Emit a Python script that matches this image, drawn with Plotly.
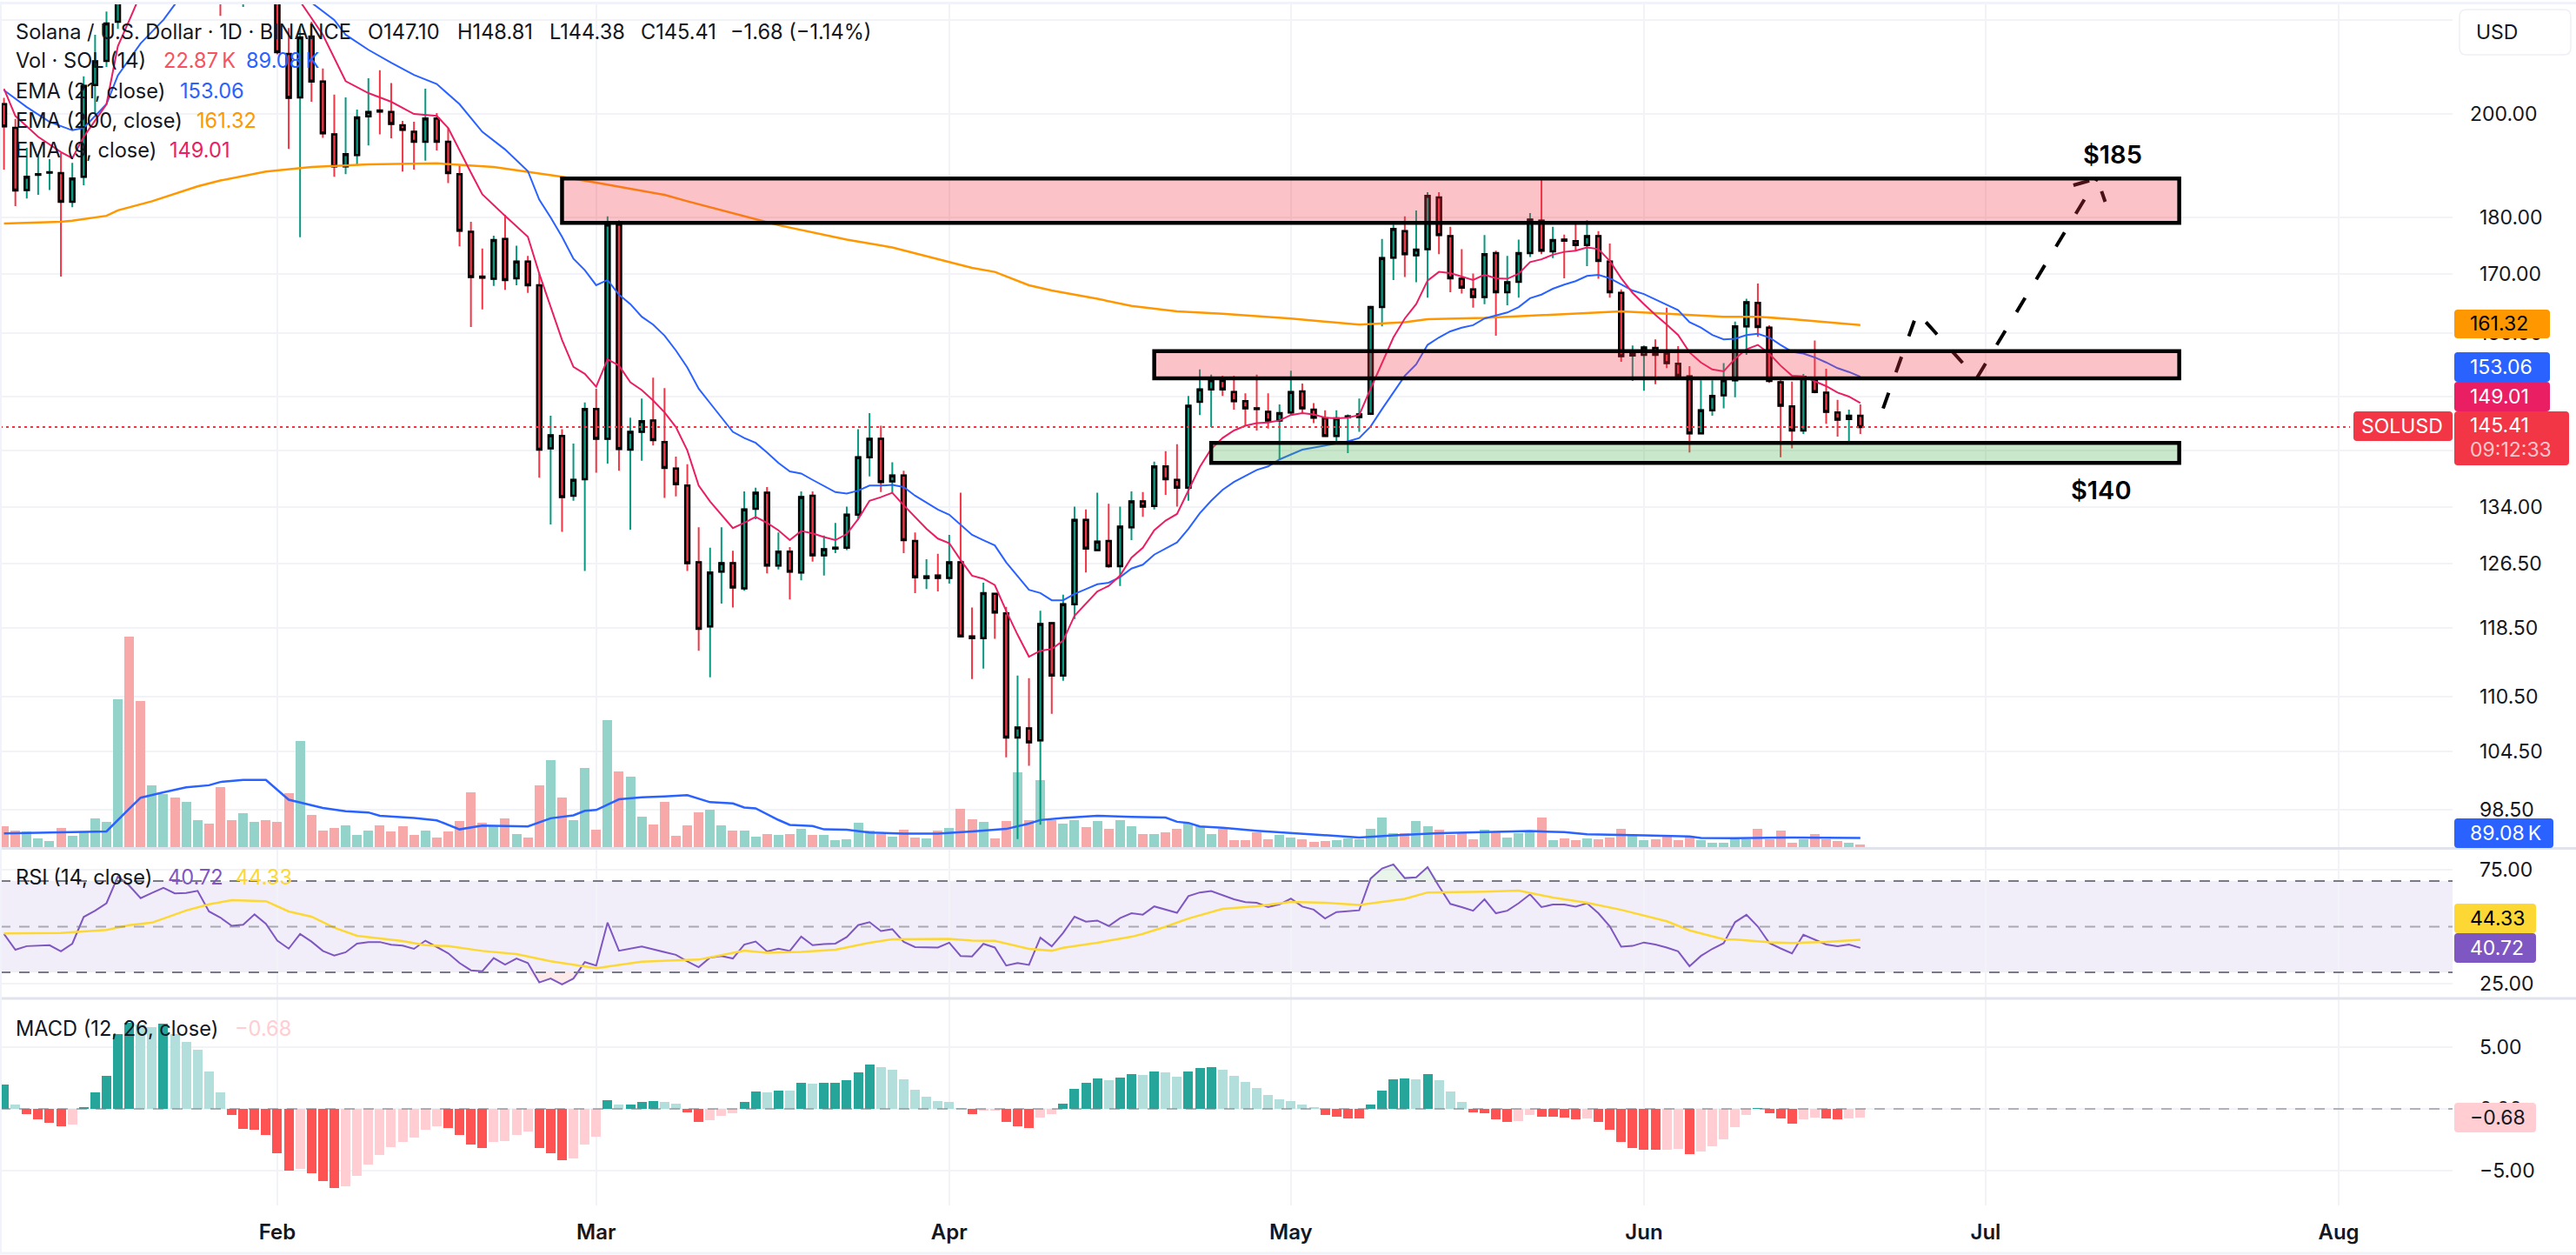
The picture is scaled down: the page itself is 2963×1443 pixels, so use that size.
import numpy as np
import pandas as pd
import plotly.graph_objects as go

# ---------- data ----------
first_day = "2025-01-08"
o_a = [202,197.2,185.1,188,188.4,188.3,182.9,187.6,206,211.1,219.7,245,238,230,245,252,246,256,261,254,239,236,241,246,233]
o_b = [212.6,203.4,216.4,206.7,195.9,189.6,191.8,199.5,200.7,200.4,197.7,196.4,194.4,199.1,194.4,188.1,177.4,169.5,169.1,176.1,169.2,172.1,168,142.3,144.1,135.6,137.9,148.1,143.7,178.7,142.1,144.7,146.4]
o_c = [143.2,139.4,137,126.7,118.7,125.5,126.6,123.4,133.8,136,126.3,128.1,125.4,135.6,127.6,128.5,128.6,133,141,143.7,137.6,138.4,129.5,124.7,125,124.7,126.7,117.5,117.3,122.7,120.3,106,107,105.7,119.1,112.9,121.4,132.3,128.3,129.5,126.2,131.3,134.8,134.2,139.7,137.8,136.7,149.2,151.1,152.4,150.7,149.3,148.2,147.7,146.4]
o_d = [147.6,150.8,148,146.7,144.1,146.9,146.9,147.4,164.3,172.8,177.5,173.2,174.3,183.7,176.6,169.1,167.3,166,173.6,166.8,168.6,173.6,179.4,173.9,176,175.7,175,176.6,172.1,166.7,156.4,156.5,157.6,156.7,155.1,153.1,144.5,147.9,150.2,152.5,161.1,165,160.9,152.2,148.5,144.9,152.5,150.6,147.6,146.6,147.10]
h_a = [203.3,199,193.2,191.8,191,192.2,190.3,207.8,216.8,222,238,262,245,250,258,258,262,266,265,258,245,246,250,248,235]
h_b = [218.3,218.7,219.7,209.5,204,203.4,200.9,207.4,209.1,206.4,198.6,198.4,205.2,200.2,197.2,189.8,179.2,174.4,176.7,180.5,174.9,173.1,170,147.1,145.1,143,149.1,151.2,180.2,179.5,146.8,149.7,152.9]
h_c = [151.3,141.1,140,131.3,128.6,131.3,128.2,136.2,136.7,136.8,130.6,128.7,136.2,136.2,130.2,131.9,134.1,145.1,147.5,145.6,140.3,139.1,130.6,127.1,127.8,130.3,136,121,124.1,122.8,121.1,112.9,112.6,120.6,119.1,122.6,134.1,133.7,136,134.5,134.1,136.2,136.1,140.4,141.9,142.9,150.1,154.2,153.4,153.2,153.2,150.5,153.4,150.5,148.8]
h_d = [154,152,149,147.9,147.9,147.3,149.7,164.5,176.1,178.7,180.2,181.3,184.7,184.7,178.3,174.3,170,176.8,174,173.1,176,180.8,187,178.3,176.9,178.8,179.5,177.5,175.3,167.3,158,158,159,164.2,157.9,154.7,152.5,152.5,155.2,161.9,165.7,168.3,161.3,152.8,152.3,153.5,158.8,154.3,149.5,148,148.81]
l_a = [189,182.1,183.5,184.2,185.1,169.5,181.9,186,200.2,209.8,218.1,232,226,226,238,240,243,250,250,221,226,223,232,229,212.5]
l_b = [193,176.4,202.5,195.2,187.6,188.1,189.8,193.7,195.9,195.1,188.6,189,190.7,192.7,186.4,174.8,161,163.9,167.9,167.2,168,166.7,138.1,131.7,130.7,134.9,125.6,138.8,140.1,139.1,131,140.5,142.7]
l_c = [135.3,135.5,125.6,115.8,112.7,121.5,121,123.1,132.4,125.3,125.8,122,124.4,126.8,125,127.9,128.3,132.3,138.3,136.1,136,127.9,122.8,123.3,123,124,117.4,112.5,113.7,117.2,103.9,95.6,103,97,108.6,112.3,119.6,125.4,128.3,126,123.7,129.6,132.7,133.7,135.7,134.1,134.9,147.2,145.4,150.1,148,145.6,144.9,145.2,140.7]
l_d = [147.2,147.5,146,144,143.2,141.6,144.7,147.2,161.1,168.9,169.4,168.5,165.9,173.4,166.8,166.6,164.2,164.8,159.6,164.6,165.9,172.9,173.4,172.7,169.2,174,171.3,169.1,165.9,155.4,152.4,150.9,151.9,154.4,152.9,141.7,144.4,147.1,148.2,149.9,156.5,159.4,152.1,141,142.3,144.4,150.5,145.9,144,143.3,144.38]
c_a = [197.5,185,187.6,188.1,188.5,182.9,187.3,205.8,211,219.3,232,238,230,245,252,246,256,261,254,239,236,241,246,233,213]
c_b = [203.3,216.2,206.7,196.1,189.6,192,199.3,200.4,200.5,198,196.8,194.4,199.1,194.4,188.3,177.6,169.4,169.3,175.9,168.9,172.1,168,142.1,144.2,135.4,137.8,148.1,143.7,178.7,142.2,144.7,146.3,143.5]
c_c = [139.5,137.2,126.6,118.4,125.4,126.6,123.5,133.7,136,126.3,128.1,125.5,135.4,127.6,128.4,128.6,133,141,143.7,137.5,138.4,129.6,124.8,124.9,124.7,126.7,117.5,117.3,122.8,120.4,106,107.1,105.5,119,112.9,121.4,132.3,128.5,129.4,126.2,131.4,134.8,134.1,139.7,137.9,136.7,148.6,151.1,152.5,151.1,149.3,148.2,148.1,146.4,147.5]
c_d = [150.7,148.2,146.8,144.1,146.7,147,147.3,164.3,172.7,177.9,173.4,174.2,184,176.8,169.2,167.6,166,173.4,166.8,168.5,173.6,179.6,174,175.9,175.8,175,176.6,172.2,166.8,156.3,156.6,157.7,156.5,155.2,153.2,144.5,147.9,150.1,152.5,161.1,165.1,161,152.4,148.6,144.9,153,150.7,147.7,146.5,147.1,145.41]

volume_k = [201,161,149,84,60,185,109,149,277,245,1443,2050,1423,603,515,482,438,261,229,583,261,330,245,261,245,
 527,1033,314,161,185,213,117,161,213,149,201,117,161,92,149,253,535,237,201,277,125,92,603,848,482,261,772,169,1238,736,687,297,221,438,109,213,338,366,213,161,161,101,125,117,125,177,117,117,68,76,237,
 160,129,104,167,94,83,160,184,372,271,243,83,254,726,261,650,261,229,261,195,254,177,261,202,125,125,142,177,229,202,125,177,66,66,142,76,118,94,76,49,59,66,83,76,177,288,136,136,254,202,167,118,136,76,167,153,94,136,160,288,66,83,66,83,76,94,177,118,66,76,101,66,101,66,42,42,76,
 80,180,80,160,42,80,128,80,61,42,22.87]

vma_day = [-24,-19,-15,-13,-12,-10,-8,-6,-5,-3,-1,1,4,6,8,9,12,14,16,18,22,24,26,27,28,30,32,34,36,38,40,41,42,44,45,47,48,50,52,55,58,61,64,66,67,69,72,75,78,79,80,81,83,86,89,92,95,98,102,106,110,113,115,120,124,125,128,133,139]
vma_val = [133,141,153,374,482,535,583,603,635,655,655,462,382,350,338,306,285,261,173,209,201,281,310,354,362,466,486,494,506,438,426,386,378,265,217,205,173,169,142,132,132,153,177,229,264,285,306,295,288,247,236,202,188,160,136,118,94,115,136,146,156,146,125,115,104,90,87,93,89.08]

ema9_day = [-24,-23,-21,-19,-18,-17,-15,-14,-13,-12,-10,-8,-5,-2,0,1,2,4,6,8,10,12,14,15,17,18,20,22,23,25,26,27,28,29,30,31,32,33] + list(range(34,140))
ema9_val = [205.2,199.6,195.4,192.4,191.2,195.4,202,214.3,220,226,236,243,250,247,240,233,224.3,216.8,206.8,204.3,202.5,200,199.6,197.2,188.4,184.3,180.3,176.5,170,158.9,154.6,153.5,151.5,155.8,154.8,152.2,151,149.4,
 147.6,145.4,142,137,134.8,133,131.2,131.9,132.7,131.9,130.9,129.6,130.8,130.5,130,129.6,130.4,132.4,134.9,135.4,136,134.3,132.7,131.1,129.8,129.2,127,125,124.6,123.8,120.6,117.7,115.1,115.8,116,117,120,121.5,123,123.7,125,127.3,128.6,130.9,132.2,133.1,136.3,139.6,142.2,143.8,144.9,145.6,146,146.1,146.4,
 147.2,147.5,147.3,146.8,146.7,146.8,147.2,151.2,155.2,159.3,162.4,164.8,168.8,170.3,170.1,169.5,168.9,169.8,169.2,169.1,170,172,172.5,173.3,173.8,174,174.6,174.3,172.2,169.2,166.7,164.8,163,161.4,159.7,156.9,155.3,154.2,153.9,155.9,157.4,158.1,156.7,154.8,153.2,153.1,152.4,151.6,150.6,150,149.01]

ema21_day = [-24,-22,-20,-18,-17,-15,-14,-12,-10,-9,-6,-3,0,2,3,5,6,8,10,12,14,16,18,20,22,23,24,25,26,27,28,29,30,31,32,33] + list(range(34,89)) + [90,92,94] + list(range(95,140))
ema21_val = [204.9,201.4,198.4,196.7,197.2,202,208,214.9,220.1,223.6,232,238,236,227,224,220.1,216.8,213.5,210.7,208.1,206.2,202,196.4,192.9,188.7,183.3,180,176.5,172.6,170.6,168,168.9,166.4,164.8,162.7,161.4,
 159.6,157.2,154.5,151.2,149,146.8,144.7,143.8,143.1,141.7,140.2,139,138.7,137.8,136.9,136.1,135.9,136.3,137,137,137.1,136.8,135.6,134.6,133.7,133,131.6,130.3,129.6,128.9,126.7,125,123.2,122.8,121.9,121.9,122.7,123.3,123.9,124.1,124.8,125.9,126.4,127.7,128.5,129.3,131.1,133.2,134.9,136.4,137.5,138.4,139.2,139.7,140.7,
 142.1,142.7,143.3,
 143.8,145.5,148.1,150.7,153.2,155,158.1,159.3,160.3,160.9,161.3,162.4,162.9,163.4,164.3,165.8,166.4,167.4,168.1,168.7,169.6,169.8,169.2,168.2,167.1,166.5,165.6,164.8,163.8,161.8,160.9,159.7,159,159.1,159.7,159.9,159.3,158.1,157,156.7,156.1,155.3,154.4,153.8,153.06]

ema200_day = [-24,-19,-18,-15,-14,-11,-7,-5,-1,3,8,14,19,22,25,28,29,34,36,41,44,50,54,61,63,66,68,72,75,79,83,89,95,99,101,106,110,116,118,121,125,127,130,133,139]
ema200_val = [178.9,179.2,179.4,180.3,181.3,183,185.8,186.9,188.6,189.5,190,190.2,189.5,188.6,187.6,186.5,186.1,184.2,183,180.3,178.6,176,174.6,171,170.3,168,167.1,165.7,164.5,163.6,163.2,162.4,161.4,161.8,162.3,162.5,162.9,163.4,163.6,163.3,162.9,162.7,162.7,162.3,161.32]

rsi_a = [46.8,39.9,41.5,41.7,41.9,39.2,42.6,54.3,57,60.3,72,68,62.5,64.8,67,64.6,64.8,65.7,56.7,54,50.4,50.9,55.4,51.3,
 43.9,40.4,46.8,43.5,39.4,37.4,38.8,42.6,43.3,43.3,42.1,41.7,40.3,43.9,41.3,38.4,34.1,30.9,30.5,36.3,33.4,36.1,34.1,25.6,27.3,24.7,27.3,34.5,33,51.8,39.5,40.4,41.3,40.1,38.8,37.7,34.8,32.3,36.5,37.2,36.1,42.2,43.5,39.2,40.4,39.4,45.7,41.9,42.4,42.6,45.5,50.7]
rsi_b = [52,48.1,48.9,43.4,41.1,41.1,40.9,43,37.2,37,42.5,40.9,33,34.1,33.3,45.2,41.4,47.3,54.4,52.2,52.7,50.3,53.8,55.9,55.3,58.9,57.5,56.1,63.4,65,65.6,63.8,62,60.8,60.5,58.6,59.8,62.3,58.8,57.5,53.6,56.4,56.7,57.2,71.1,75.5,77.3,71.3,71.6,76.1,67.7,60,58.6,57,62,55.9,57,60.3,64.2,58.6,59.7,59.7,58.8,60.3,55.9,50.2,41.3,41.6,43.1,42.2,40.9,39.2,32.7,37.2,40.3,42.8,52,
 55.2,50.1,42.9,40.5,38.3,46.5,44.4,42.2,41.5,42.2,40.72]
rsi_ma_day = [-24,-19,-15,-13,-11,-8,-6,-4,-1,1,3,5,7,11,13,15,18,21,24,28,32,37,41,43,46,49,52,54,59,61,63,66,68,69,72,75,76,78,80,83,86,89,92,95,99,101,106,109,112,115,118,122,124,127,128,131,133,136,139]
rsi_ma_val = [47.1,47.3,48.6,50.7,51.8,57.1,59.8,61.6,61.2,56.7,54.4,49.6,46,43.7,41.9,41.5,39.4,38,34.9,31.8,34.7,35.6,39.5,38.6,39,39.9,43,44.5,44.7,43.9,43.8,40.3,39.5,40.8,43,45.6,46.9,50,53.6,57.8,59,60.9,60.5,59.5,62.2,65,65.3,65.8,62.8,60.5,57.4,52.4,48.4,44.5,44.4,43.2,42.9,43.4,44.33]

macd_hist = [1.95,.37,-.44,-.87,-1.11,-1.45,-1.31,.17,1.38,2.66,6.08,7.03,6.86,6.69,6.96,6.08,5.48,4.84,3.06,1.38,-.47,-1.61,-1.68,-2.12,
 -3.6,-5.01,-4.87,-5.24,-5.88,-6.45,-6.29,-5.45,-4.54,-3.73,-3.09,-2.69,-2.35,-1.68,-1.41,-1.55,-2.12,-2.89,-3.16,-2.69,-2.62,-2.12,-1.88,-3.16,-3.6,-4.17,-4.03,-2.89,-2.25,.74,.37,.38,.57,.67,.57,.44,-.27,-1.04,-.91,-.54,-.37,.57,1.45,1.38,1.51,1.48,2.15,2.08,2.1,2.12,2.35,2.99,
 3.58,3.37,3.2,2.44,1.57,1.02,.67,.58,.03,-.41,-.17,-.16,-1.05,-1.4,-1.54,-.7,-.41,.41,1.66,2.15,2.5,2.35,2.56,2.85,2.79,3.08,2.94,2.65,3.08,3.34,3.43,3.2,2.7,2.21,1.72,1.16,.81,.67,.38,.09,-.47,-.61,-.76,-.77,.38,1.51,2.44,2.5,2.44,2.85,2.35,1.42,.58,-.26,-.35,-.84,-1.1,-.96,-.47,-.61,-.62,-.7,-.84,-.76,-1.1,-1.69,-2.67,-3.17,-3.31,-3.32,-3.31,-3.23,-3.66,-3.46,-3.02,-2.47,-1.48,
 -.48,.03,-.38,-.8,-1.23,-.88,-.72,-.8,-.88,-.8,-.68]

month_ticks = ["2025-02-01","2025-03-01","2025-04-01","2025-05-01","2025-06-01","2025-07-01","2025-08-01"]
month_text = ["Feb","Mar","Apr","May","Jun","Jul","Aug"]
price_ticks = [220,200,180,170,160,150,142,134,126.5,118.5,110.5,104.5,98.5]
price_text = ["","","180.00","170.00","160.00","","","134.00","126.50","118.50","110.50","104.50","98.50"]
rsi_ticks = [75,25]
macd_ticks = [5,0,-5]
macd_text = ["5.00","0.00","−5.00"]

path_dates = ["2025-06-22","2025-06-25","2025-06-30 05:00","2025-07-10 19:00"]
path_price = [148.2,163.4,152.8,187.3]
head_dates = ["2025-07-08 17:00","2025-07-10 19:00","2025-07-11 12:00"]
head_price = [186,187.3,182.9]

zones = [("2025-02-26","2025-07-18",179.0,187.3,"rgba(242,54,69,0.3)"),
         ("2025-04-19","2025-07-18",152.8,157.1,"rgba(242,54,69,0.3)"),
         ("2025-04-24","2025-07-18",140.2,143.1,"rgba(76,175,80,0.3)")]

# ---------- assemble ----------
opens = np.array(o_a+o_b+o_c+o_d)
highs = np.array(h_a+h_b+h_c+h_d)
lows = np.array(l_a+l_b+l_c+l_d)
closes = np.array(c_a+c_b+c_c+c_d)
rsi = rsi_a+rsi_b

dates = pd.date_range(first_day, periods=164)
feb1 = pd.Timestamp("2025-02-01")
def day(lst):
    return [feb1 + pd.Timedelta(days=int(v)) for v in lst]

GREEN, RED = "#089981", "#F23645"
BAR_W = 0.84*86400000

fig = go.Figure()
vol_col = ["#93D3CA" if c >= o else "#F7A9A9" for o, c in zip(opens, closes)]
fig.add_bar(x=dates, y=volume_k, marker=dict(color=vol_col, line_width=0), width=BAR_W, yaxis="y", xaxis="x")
fig.add_scatter(x=day(vma_day), y=vma_val, mode="lines", line=dict(color="#2962FF", width=2.5), yaxis="y")

fig.add_scatter(x=day(ema200_day), y=ema200_val, mode="lines", line=dict(color="#FF9800", width=2.5), yaxis="y2")
fig.add_scatter(x=day(ema21_day), y=ema21_val, mode="lines", line=dict(color="#2962FF", width=2), yaxis="y2")
fig.add_scatter(x=day(ema9_day), y=ema9_val, mode="lines", line=dict(color="#E91E63", width=2), yaxis="y2")

# wicks
fig.add_candlestick(x=dates, open=opens, high=highs, low=lows, close=closes, yaxis="y2",
    increasing=dict(line=dict(color=GREEN, width=2), fillcolor=GREEN),
    decreasing=dict(line=dict(color=RED, width=2), fillcolor=RED))
# bodies with the black outline
fig.add_candlestick(x=dates, open=opens, close=closes, high=np.maximum(opens, closes), low=np.minimum(opens, closes), yaxis="y2",
    increasing=dict(line=dict(color="#000000", width=2.5), fillcolor=GREEN),
    decreasing=dict(line=dict(color="#000000", width=2.5), fillcolor=RED))

fig.add_scatter(x=path_dates+[None]+head_dates, y=path_price+[None]+head_price, mode="lines",
                line=dict(color="#000000", width=4, dash="19px,25px"), yaxis="y2")

# RSI overshoot fills
none_line = dict(width=0, color="rgba(0,0,0,0)")
fig.add_scatter(x=dates, y=[70]*len(rsi), mode="lines", line=none_line, yaxis="y3")
fig.add_scatter(x=dates, y=np.maximum(rsi, 70), mode="lines", line=none_line, fill="tonexty", fillcolor="rgba(76,175,80,0.12)", yaxis="y3")
fig.add_scatter(x=dates, y=[30]*len(rsi), mode="lines", line=none_line, yaxis="y3")
fig.add_scatter(x=dates, y=np.minimum(rsi, 30), mode="lines", line=none_line, fill="tonexty", fillcolor="rgba(255,82,82,0.12)", yaxis="y3")
fig.add_scatter(x=dates, y=rsi, mode="lines", line=dict(color="#7E57C2", width=2), yaxis="y3")
fig.add_scatter(x=day(rsi_ma_day), y=rsi_ma_val, mode="lines", line=dict(color="#FDD835", width=2.5), yaxis="y3")

macd_col = []
prev = 0
for v in macd_hist:
    if v >= 0:
        macd_col.append("#26A69A" if v > prev else "#B2DFDB")
    else:
        macd_col.append("#FF5252" if v < prev else "#FFCDD2")
    prev = v
fig.add_bar(x=dates, y=macd_hist, marker=dict(color=macd_col, line_width=0), width=BAR_W, yaxis="y4")

# ---------- layout ----------
PW, PB, PH = 2821.0, 1386.0, 1381.0
def fx(x): return x/PW
def fy(y): return (PB-y)/PH
GRID = "#F2F3F6"
FONT = "Inter, Roboto, sans-serif"
INK = "#131722"

def rrect(x0, y0, x1, y1, r=4):
    a, b, c, d = fx(x0), fx(x1), fy(y0), fy(y1)
    rx, ry = r/PW, r/PH
    return (f"M{a+rx},{c} L{b-rx},{c} Q{b},{c} {b},{c-ry} L{b},{d+ry} Q{b},{d} {b-rx},{d} "
            f"L{a+rx},{d} Q{a},{d} {a},{d+ry} L{a},{c-ry} Q{a},{c} {a+rx},{c} Z")

shapes = []
shapes.append(dict(type="rect", xref="paper", x0=0, x1=1, yref="y3", y0=30, y1=70, fillcolor="rgba(126,87,194,0.1)", line_width=0, layer="below"))
for lvl, col in [(70,"#787B86"),(50,"rgba(120,123,134,0.6)"),(30,"#787B86")]:
    shapes.append(dict(type="line", xref="paper", x0=0, x1=1, yref="y3", y0=lvl, y1=lvl, line=dict(color=col, width=2, dash="12px,10px"), layer="above"))
shapes.append(dict(type="line", xref="paper", x0=0, x1=1, yref="y4", y0=0, y1=0, line=dict(color="rgba(120,123,134,0.55)", width=2, dash="12px,10px"), layer="above"))
for x0, x1, y0, y1, col in zones:
    shapes.append(dict(type="rect", xref="x", yref="y2", x0=x0, x1=x1, y0=y0, y1=y1, fillcolor=col, line=dict(color="#000000", width=4.5), layer="above"))
shapes.append(dict(type="line", xref="paper", x0=0, x1=fx(2703), yref="y2", y0=145.41, y1=145.41, line=dict(color=RED, width=2, dash="3px,4px"), layer="above"))
for yy, col, w in [(975.5,"#E0E3EB",3),(1148,"#E0E3EB",3),(3.5,"#F0F3FA",3),(1441,"#F0F3FA",3)]:
    shapes.append(dict(type="line", xref="paper", yref="paper", x0=0, x1=2963/PW, y0=fy(yy), y1=fy(yy), line=dict(color=col, width=w), layer="above"))
shapes.append(dict(type="line", xref="paper", yref="paper", x0=fx(1), x1=fx(1), y0=fy(3), y1=fy(1441), line=dict(color="#F0F3FA", width=2), layer="above"))

annotations = []
LEG = 23.6
THIN = "\u2009"
def text(x, y, s, size=LEG, color=INK, anchor="left", weight=400):
    annotations.append(dict(xref="paper", yref="paper", x=fx(x), y=fy(y), text=s, showarrow=False, xanchor=anchor, yanchor="middle",
                            font=dict(family=FONT, size=size, color=color, weight=weight), borderpad=0, borderwidth=0))
def badge(x0, y0, x1, y1, bg, s, fg="#FFFFFF", tx=2841):
    shapes.append(dict(type="path", path=rrect(x0, y0, x1, y1), xref="paper", yref="paper", fillcolor=bg, line_width=0, layer="above"))
    text(tx, (y0+y1)/2, s, color=fg, size=23)

text(18, 36, "Solana / U.S. Dollar · 1D · BINANCE")
text(423, 36, "O147.10"); text(526, 36, "H148.81"); text(632, 36, "L144.38"); text(737, 36, "C145.41"); text(840, 36, "−1.68 (−1.14%)")
text(18, 69, "Vol · SOL (14)"); text(188, 69, "22.87"+THIN+"K", color="#F7525F"); text(283, 69, "89.08"+THIN+"K", color="#2962FF")
text(18, 104, "EMA (21, close)"); text(207, 104, "153.06", color="#2962FF")
text(18, 138, "EMA (200, close)"); text(226, 138, "161.32", color="#FF9800")
text(18, 172, "EMA (9, close)"); text(195, 172, "149.01", color="#E91E63")
text(18, 1009, "RSI (14, close)"); text(193, 1009, "40.72", color="#7E57C2"); text(271, 1009, "44.33", color="#FDD835")
text(18, 1182, "MACD (12, 26, close)"); text(270, 1182, "−0.68", color="#FFCDD2")

text(2430, 178, "$185", size=29, color="#000000", anchor="center", weight=600)
text(2417, 563, "$140", size=29, color="#000000", anchor="center", weight=600)

text(2841, 131, "200.00", size=23)

shapes.append(dict(type="path", path=rrect(2829, 11, 2957, 63, 8), xref="paper", yref="paper", fillcolor="#FFFFFF", line=dict(color="#EEF0F4", width=1.5), layer="above"))
text(2848, 37, "USD", size=23)

badge(2823, 356, 2933, 389, "#FF9800", "161.32", fg="#000000")
badge(2823, 405, 2933, 439, "#2962FF", "153.06")
badge(2823, 439, 2933, 473, "#E91E63", "149.01")
badge(2823, 473, 2955, 535, RED, "145.41")
annotations.pop()
text(2841, 489, "145.41", color="#FFFFFF", size=23)
text(2841, 517, "09:12:33", color="#FBC6CB", size=23)
badge(2707, 473, 2821, 507, RED, "SOLUSD", tx=2716)
badge(2823, 941, 2937, 975, "#2962FF", "89.08"+THIN+"K")
badge(2823, 1039, 2917, 1073, "#FDD835", "44.33", fg="#000000")
badge(2823, 1073, 2917, 1107, "#7E57C2", "40.72")
badge(2823, 1268, 2917, 1302, "#FFCDD2", "−0.68", fg="#131722")

d_top, d_vol = 1.0, fy(975)
d_rsi_top, d_rsi_bot = fy(976), fy(1148)
common_y = dict(side="right", anchor="x", zeroline=False, showline=False, ticks="",
                tickfont=dict(family=FONT, size=23, color=INK), ticklabelstandoff=30, gridcolor=GRID, gridwidth=2, fixedrange=True)
fig.update_layout(
    width=2963, height=1443, autosize=False, margin=dict(l=0, r=142, t=5, b=57, pad=0),
    paper_bgcolor="#FFFFFF", plot_bgcolor="#FFFFFF", showlegend=False, hovermode=False,
    barmode="overlay", boxmode="overlay", boxgap=0.47, bargap=0,
    xaxis=dict(type="date", range=["2025-01-07 15:36", "2025-08-11"], anchor="y4", rangeslider=dict(visible=False),
               tickmode="array", tickvals=month_ticks, ticktext=month_text, ticks="", showline=False, zeroline=False,
               tickfont=dict(family=FONT, size=24, color=INK, weight=600), ticklabelstandoff=14, showgrid=True, gridcolor=GRID, gridwidth=2),
    yaxis=dict(domain=[d_vol, d_top], range=[-8.5, 8217], showticklabels=False, showgrid=False, zeroline=False, side="right", anchor="x", fixedrange=True),
    yaxis2=dict(domain=[d_vol, d_top], overlaying="y", type="log", range=[1.97649, 2.3495], tickmode="array", tickvals=price_ticks, ticktext=price_text, **common_y),
    yaxis3=dict(domain=[d_rsi_bot, d_rsi_top], range=[18.6, 84.1], tickmode="array", tickvals=rsi_ticks, ticktext=["75.00","25.00"], **common_y),
    yaxis4=dict(domain=[0, d_rsi_bot], range=[-7.87, 9.0], tickmode="array", tickvals=macd_ticks, ticktext=macd_text, **common_y),
    shapes=shapes, annotations=annotations,
)
fig.update_traces(hoverinfo="skip")
fig.write_html("out.html", config=dict(displayModeBar=False), post_script="document.body.style.margin='0';document.body.style.overflow='hidden';")
